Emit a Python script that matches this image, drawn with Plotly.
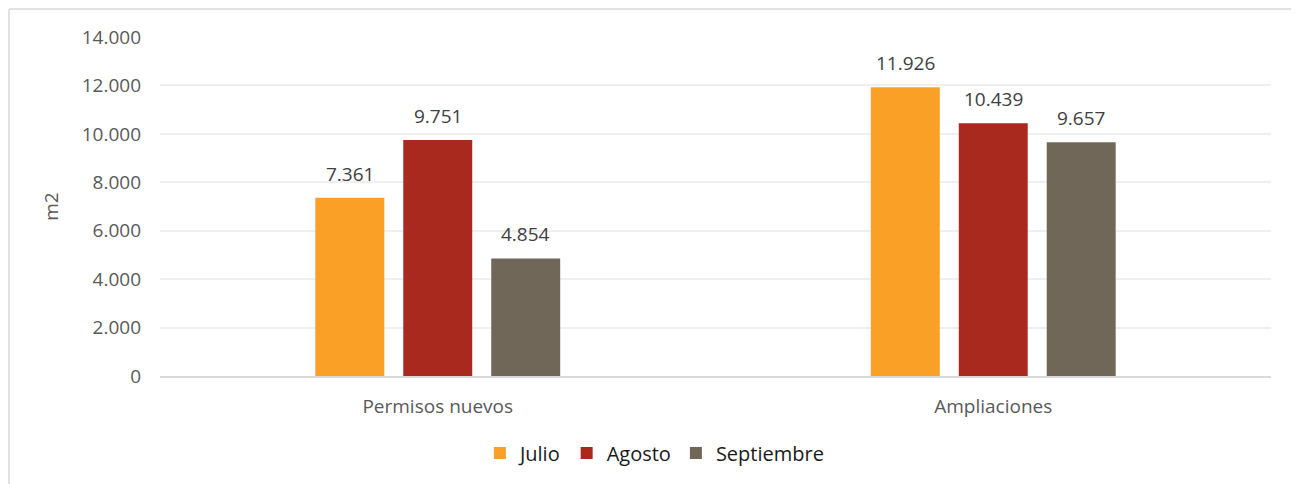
import plotly.graph_objects as go

categories = ["Permisos nuevos", "Ampliaciones"]
series_names = ["Julio", "Agosto", "Septiembre"]
julio = [7361, 11926]
agosto = [9751, 10439]
septiembre = [4854, 9657]
colors = ["#FBA026", "#A9291F", "#706759"]

FONT = "Century Gothic, URW Gothic, Open Sans, sans-serif"

# page body has an 8px margin, so the figure starts at (8, 8)
W, H = 1291, 476
L, R, T, B = 152, 28, 29, 108
pw, ph = W - L - R, H - T - B

SLOT = 88  # pixel distance between bars within a group

fig = go.Figure()
annotations = []
all_series = [julio, agosto, septiembre]
for i, (name, vals, col) in enumerate(zip(series_names, all_series, colors)):
    fig.add_trace(go.Bar(
        x=categories, y=vals, name=name, marker=dict(color=col, line=dict(width=0)),
    ))
    for c, v in zip(categories, vals):
        annotations.append(dict(
            x=c, y=v, xref="x", yref="y", text=f"{v:,}".replace(",", "."),
            showarrow=False, yanchor="bottom", xanchor="center",
            xshift=(i - 1) * SLOT, yshift=9,
            font=dict(family=FONT, size=19, color="#404040"),
        ))

border_x = (1 - L) / pw
border_y = 1 + (T - 1) / ph

fig.update_layout(
    width=W, height=H,
    margin=dict(l=L, r=R, t=T, b=B, autoexpand=False),
    paper_bgcolor="white", plot_bgcolor="white",
    separators=",.",
    barmode="group", bargap=0.525, bargroupgap=0.216,
    font=dict(family=FONT, size=19, color="#595959"),
    showlegend=True,
    legend=dict(orientation="h", x=0.445, xanchor="center", y=-77 / ph, yanchor="middle",
                font=dict(family=FONT, size=20, color="#1A1A1A"),
                traceorder="normal"),
    yaxis=dict(range=[0, 14000], dtick=2000, tickformat=",d", showgrid=True,
               gridcolor="#EFEFEF", gridwidth=1.5, zeroline=False, showline=False,
               ticklabelstandoff=18, tickfont=dict(size=19, color="#595959"),
               title=dict(text="m2", standoff=18, font=dict(size=19, color="#595959"))),
    xaxis=dict(showline=True, linecolor="#D9D9D9", linewidth=1.5, showgrid=False,
               ticklabelstandoff=12, tickfont=dict(size=19, color="#595959")),
    annotations=annotations,
    shapes=[
        dict(type="line", xref="paper", yref="paper", x0=border_x, x1=1.2, y0=border_y, y1=border_y,
             line=dict(color="#D9D9D9", width=1.5), layer="below"),
        dict(type="line", xref="paper", yref="paper", x0=border_x, x1=border_x, y0=-0.6, y1=border_y,
             line=dict(color="#D9D9D9", width=1.5), layer="below"),
    ],
)

fig.write_html("out.html", post_script="document.body.style.overflow='hidden';")
